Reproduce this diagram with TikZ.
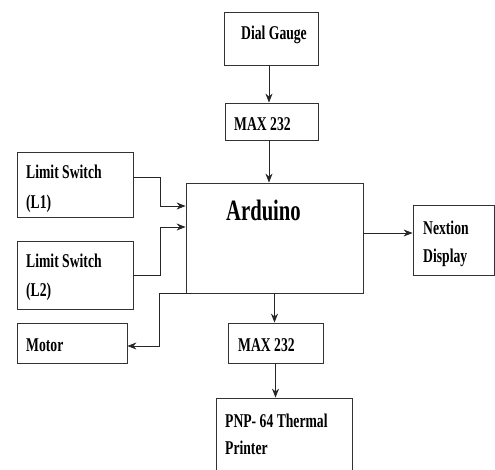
\documentclass[tikz,border=0pt]{standalone}
\usepackage{fontspec}
\setmainfont{Liberation Serif}[FakeStretch=0.7]
\usetikzlibrary{arrows.meta}
\begin{document}
\begin{tikzpicture}[x=1pt,y=-1pt,
  box/.style={draw=black!80,line width=0.8pt,rectangle,inner sep=0pt},
  lbl/.style={anchor=base west,inner sep=0pt,font=\bfseries\fontsize{19.5}{22}\selectfont},
  arr/.style={draw=black!85,line width=0.8pt,-{Stealth[length=9pt,width=7pt]}},
  ln/.style={draw=black!85,line width=0.8pt}]
\useasboundingbox (0,0) rectangle (495,469);
\clip (0,0) rectangle (495,469);
% boxes
\node[box,minimum width=94pt,minimum height=53pt] (dial) at (271,38.5) {};
\node[box,minimum width=93pt,minimum height=37pt] (maxa) at (271.5,121.5) {};
\node[box,minimum width=177pt,minimum height=110pt] (ard) at (274.5,238) {};
\node[box,minimum width=116pt,minimum height=65pt] (lone) at (75,184.5) {};
\node[box,minimum width=116pt,minimum height=68pt] (ltwo) at (75,275) {};
\node[box,minimum width=110pt,minimum height=40pt] (motor) at (72,343) {};
\node[box,minimum width=95pt,minimum height=40pt] (maxb) at (275.5,343) {};
\node[box,minimum width=136pt,minimum height=82pt] (prn) at (284,439) {};
\node[box,minimum width=81pt,minimum height=70pt] (nex) at (453.5,240) {};
% labels
\node[lbl] (tdial) at (241,39) {Dial Gauge};
\node[lbl] (tmaxa) at (234,130) {MAX 232};
\node[lbl,font=\bfseries\fontsize{29.5}{33}\selectfont] (tard) at (226,220) {Arduino};
\node[lbl] (tlonea) at (26,178) {Limit Switch};
\node[lbl] (tloneb) at (26,208) {(L1)};
\node[lbl] (tltwoa) at (26,267) {Limit Switch};
\node[lbl] (tltwob) at (26,296) {(L2)};
\node[lbl] (tmotor) at (26,351) {Motor};
\node[lbl] (tmaxb) at (238,351) {MAX 232};
\node[lbl] (tprna) at (225,427) {PNP- 64 Thermal};
\node[lbl] (tprnb) at (225,454) {Printer};
\node[lbl] (tnexa) at (423,234) {Nextion};
\node[lbl] (tnexb) at (423,262) {Display};
% connectors
\draw[arr] ([xshift=-2pt]dial.south) -- ([xshift=-2pt]dial.south |- maxa.north);
\draw[arr] ([xshift=-2.5pt]maxa.south) -- ([xshift=-2.5pt]maxa.south |- ard.north);
\draw[arr] ([yshift=7.5pt]lone.east) -- ++(27,0) |- ([yshift=32pt]ard.west);
\draw[arr] (ltwo.east) -- ++(27,0) |- ([yshift=11pt]ard.west);
\draw[arr] ([xshift=6pt]ard.south west) -- ++(-32,0) |- ([yshift=-3pt]motor.east);
\draw[arr] ([yshift=5pt]ard.east) -- ([yshift=5pt]ard.east -| nex.west);
\draw[arr] (ard.south) -- (ard.south |- maxb.north);
\draw[arr] (maxb.south) -- (maxb.south |- prn.north);
\end{tikzpicture}
\end{document}
